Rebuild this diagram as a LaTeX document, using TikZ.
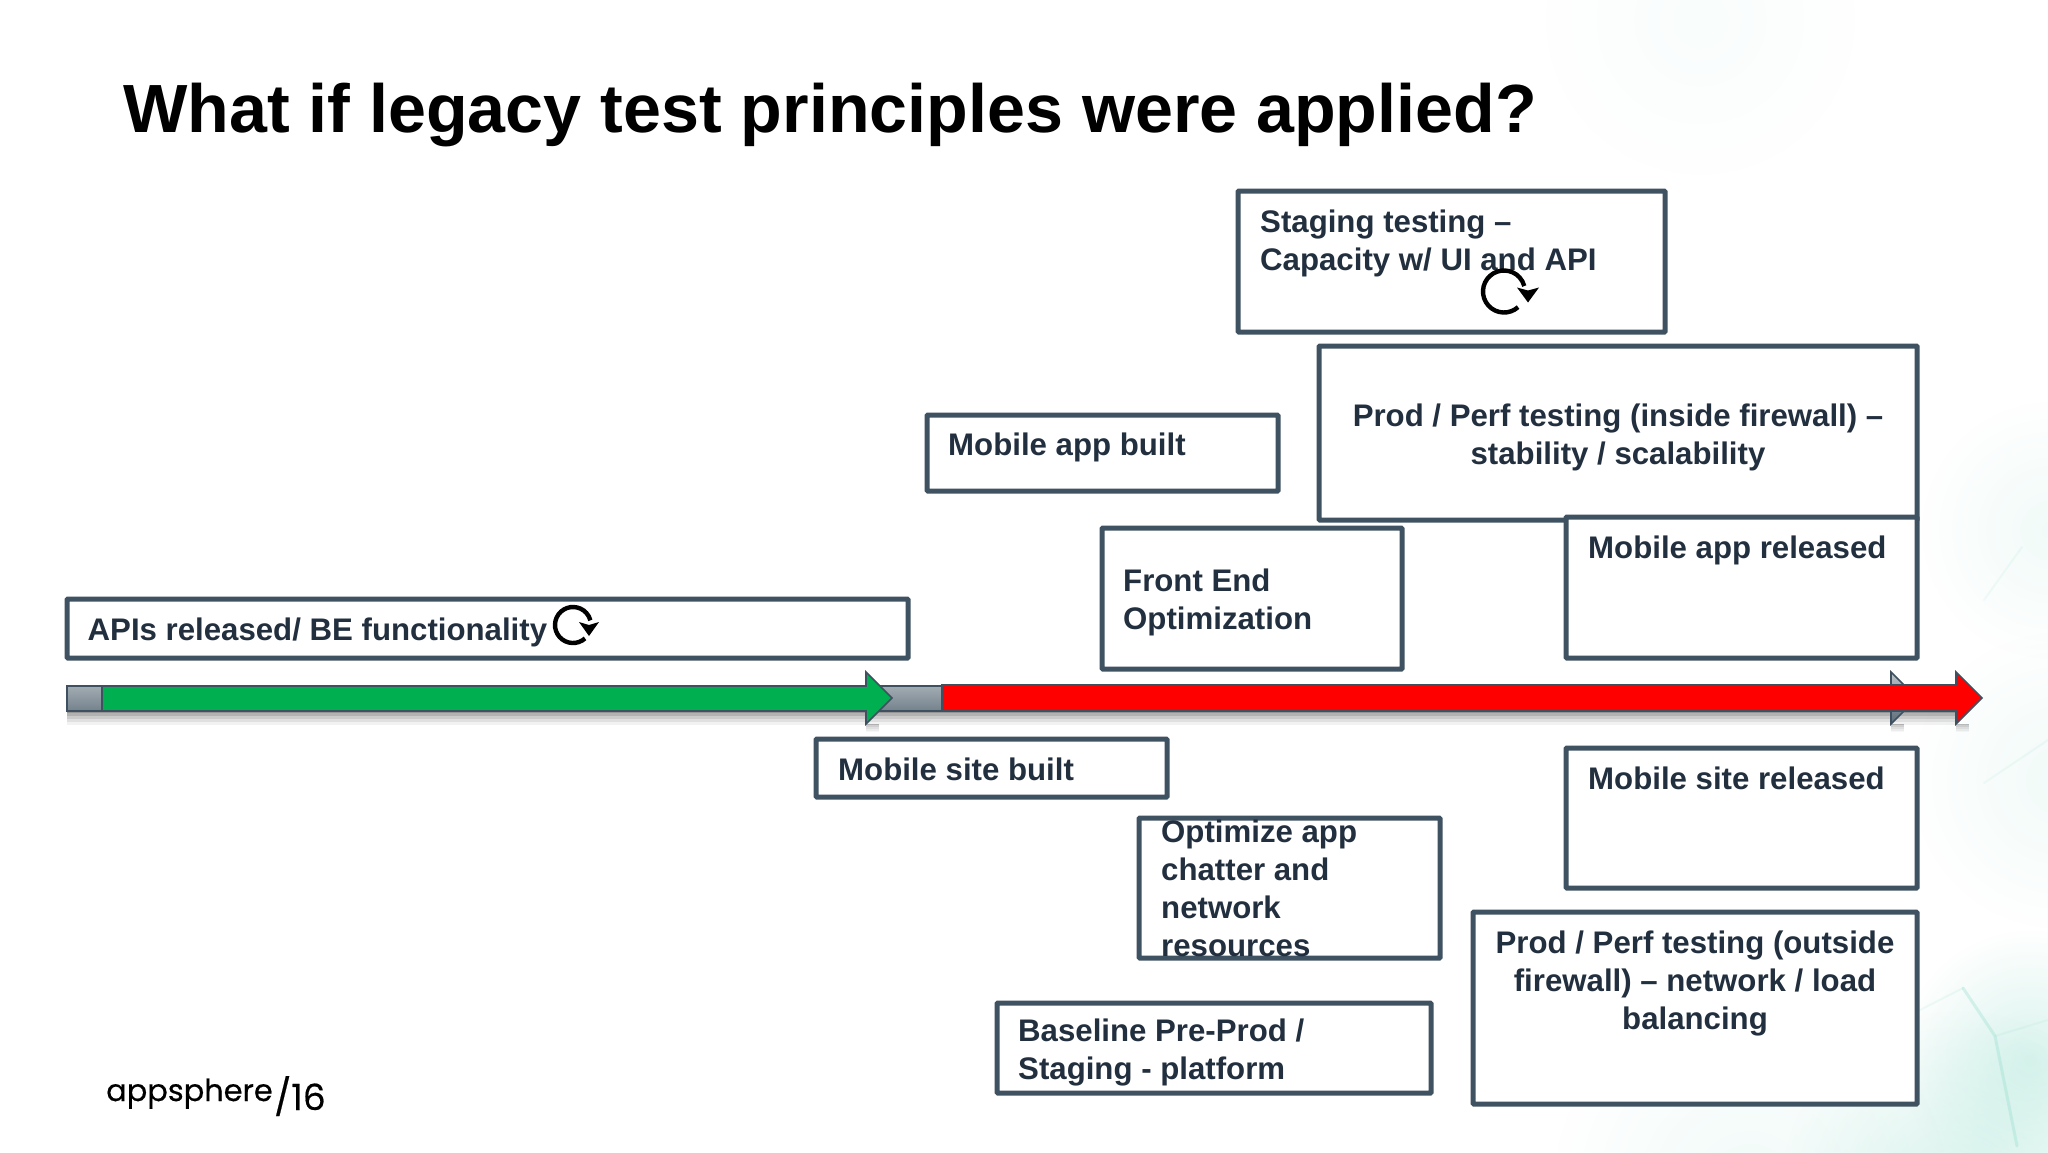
\documentclass[tikz,border=0pt]{standalone}
\usepackage{fontspec}
\setmainfont{Liberation Sans}
\newfontfamily\logofont[FakeBold=0.5]{Poppins}
\usetikzlibrary{arrows.meta,fadings}
\definecolor{boxline}{HTML}{3F5261}
\definecolor{boxtext}{HTML}{222F3E}
\definecolor{barstroke}{HTML}{3F5060}
\definecolor{teal1}{HTML}{8ADBC8}
\definecolor{arrowgreen}{HTML}{00B050}
\definecolor{arrowred}{HTML}{FF0000}
\tikzfading[name=softedge,inner color=transparent!68,outer color=transparent!100]
\tikzfading[name=softedgelight,inner color=transparent!88,outer color=transparent!100]
\tikzfading[name=softedgefaintest,inner color=transparent!95,outer color=transparent!100]
\tikzset{
  x=1pt,y=-1pt,
  boxnode/.style={draw=boxline,line width=5pt,fill=white,inner sep=0pt,outer sep=0pt,rounded corners=0.8pt,anchor=north west},
  bodytext/.style={inner sep=0pt,font=\bfseries\fontsize{31.2}{38}\selectfont,text=boxtext,anchor=base west,align=left},
  centretext/.style={bodytext,anchor=base,align=center},
  cycleicon/.style={line width=4.4pt,black},
  tealblob/.style={fill=teal1,path fading=softedge},
  tealfaint/.style={fill=teal1,path fading=softedgelight},
  tealfaintest/.style={fill=teal1,path fading=softedgefaintest},
  barline/.style={draw=barstroke,line width=1.6pt,line join=miter},
  netline/.style={teal1,line cap=round},
}
\newcommand{\flowpath}[5]{(#1,#4) -- (#2,#4) -- (#2,672) -- (#3,698) -- (#2,724) -- (#2,#5) -- (#1,#5) -- cycle}
\begin{document}
\begin{tikzpicture}
\useasboundingbox (0,0) rectangle (2048,1152);
\fill[white] (0,0) rectangle (2048,1152);
% background wash
\begin{scope}
\clip (0,0) rectangle (2048,1152);
\fill[tealblob] (2030,1060) circle (130);
\fill[tealblob] (1960,1190) circle (180);
\fill[tealfaint] (2060,780) circle (150);
\fill[tealfaint] (2050,530) circle (130);
\fill[tealfaint] (1750,1190) circle (200);
\fill[tealfaintest] (1700,20) circle (160);
\draw[netline,opacity=.3,line width=3pt] (1963,988) -- (1995,1036) -- (2017,1146);
\draw[netline,opacity=.12,line width=2pt] (1963,988) -- (1920,1010);
\draw[netline,opacity=.12,line width=2pt] (1995,1036) -- (2048,1020);
\draw[netline,opacity=.1,line width=2pt] (2022,547) -- (1984,600);
\draw[netline,opacity=.1,line width=2pt] (1984,783) -- (2048,740);
\end{scope}
% title
\node[inner sep=0pt,anchor=base west,font=\bfseries\fontsize{68.2}{72}\selectfont] (title) at (123,132) {What if legacy test principles were applied?};
% timeline shadow
\foreach \d/\o in {14/.05,11/.07,8/.09,5/.12,2/.16}{
  \fill[black,opacity=\o] (67,711) rectangle (1956,711+\d);
  \fill[black,opacity=\o*.6] (1891,724) -- (1904,724) -- (1904,724+\d*.6) -- (1891,724+\d*.6) -- cycle;
  \fill[black,opacity=\o*.6] (1956,724) -- (1969,724) -- (1969,724+\d*.6) -- (1956,724+\d*.6) -- cycle;
  \fill[black,opacity=\o*.6] (866,724) -- (879,724) -- (879,724+\d*.6) -- (866,724+\d*.6) -- cycle;
}
% timeline arrows
\path[barline,top color=boxline!35!white,bottom color=boxline!85!white] \flowpath{67}{1891}{1917}{686}{711};
\path[barline,fill=arrowgreen] \flowpath{102}{866}{892}{686}{711};
\path[barline,fill=arrowred] \flowpath{942}{1956}{1982}{685}{711};
% boxes
\node[boxnode,minimum width=427pt,minimum height=141pt] (staging) at (1238,191) {};
\node[boxnode,minimum width=598pt,minimum height=174pt] (prodin) at (1319,346) {};
\node[boxnode,minimum width=351pt,minimum height=76pt] (appbuilt) at (927,415) {};
\node[boxnode,minimum width=300pt,minimum height=141pt] (feo) at (1102,528) {};
\node[boxnode,minimum width=351pt,minimum height=141pt] (apprel) at (1566,517) {};
\node[boxnode,minimum width=841pt,minimum height=59pt] (apis) at (67,599) {};
\node[boxnode,minimum width=351pt,minimum height=58pt] (sitebuilt) at (816,739) {};
\node[boxnode,minimum width=351pt,minimum height=140pt] (siterel) at (1566,748) {};
\node[boxnode,minimum width=301pt,minimum height=140pt] (optimize) at (1139,818) {};
\node[boxnode,minimum width=434pt,minimum height=90pt] (baseline) at (997,1003) {};
\node[boxnode,minimum width=444pt,minimum height=192pt] (prodout) at (1473,912) {};
% labels (the base anchor of a node falls on its last line)
\node[bodytext] (stagingt) at (1260,270) {Staging testing --\\Capacity w/ UI and API};
\node[centretext] (prodint) at (1618,464) {Prod / Perf testing (inside firewall) --\\stability / scalability};
\node[bodytext] (appbuiltt) at (948,455.5) {Mobile app built};
\node[bodytext] (feot) at (1123,629) {Front End\\Optimization};
\node[bodytext] (apprelt) at (1588,558.5) {Mobile app released};
\node[bodytext] (apist) at (87.5,640.5) {APIs released/ BE functionality};
\node[bodytext] (sitebuiltt) at (838,780) {Mobile site built};
\node[bodytext] (sitereit) at (1588,789) {Mobile site released};
\node[bodytext] (optimizet) at (1161,956) {Optimize app\\chatter and\\network\\resources};
\node[bodytext] (baselinet) at (1018,1079) {Baseline Pre-Prod /\\Staging - platform};
\node[centretext] (prodoutt) at (1695,1029) {Prod / Perf testing (outside\\firewall) -- network / load\\balancing};
% cycle icons
\begin{scope}[shift={(573,625)},y=1pt]
\draw[cycleicon] (-48:18) arc[start angle=-48,end angle=-345,radius=18];
\fill[black] (6,3) -- (16,0) -- (26,3) -- (16,-11) -- cycle;
\end{scope}
\begin{scope}[shift={(1504,291.5)},y=1pt]
\draw[cycleicon] (-48:21) arc[start angle=-48,end angle=-345,radius=21];
\fill[black] (13,4) -- (24,1) -- (35,4) -- (24,-11) -- cycle;
\end{scope}
% logo
\node[inner sep=0pt,anchor=base west,font=\logofont\fontsize{30.4}{40}\selectfont] (logoa) at (106,1101) {appsphere};
\node[inner sep=0pt,anchor=base west,font=\logofont\fontsize{36}{40}\selectfont] (logob) at (274,1110) {/16};
\end{tikzpicture}
\end{document}
